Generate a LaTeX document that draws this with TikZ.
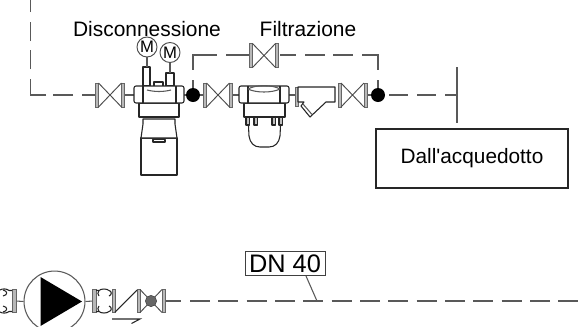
\documentclass[tikz,border=0pt]{standalone}
\usepackage{fontspec}
\setmainfont{Liberation Sans}[Ligatures=TeXOff]
\tikzset{
  pipe/.style={draw=black!65,line width=0.8pt},
  pipedash/.style={draw=black!65,line width=0.8pt,dash pattern=on 15pt off 6.25pt},
  part/.style={draw=black!85,line width=0.8pt,fill=white,line join=round},
  flange/.style={draw=black!60,fill=black!28,line width=0.5pt},
  label/.style={inner sep=0pt,font=\fontsize{15.7pt}{18pt}\selectfont},
  junction/.style={circle,fill=black,inner sep=0pt,minimum size=10.5pt},
  gaugecirc/.style={circle,draw=black!70,line width=0.7pt,fill=white,inner sep=0pt,minimum size=15pt,font=\fontsize{12.5pt}{13pt}\selectfont},
  gatevalve/.pic={
    \draw[flange] (-14.5,-12) rectangle (-11.5,12);
    \draw[flange] (11.5,-12) rectangle (14.5,12);
    \draw[draw=black!70,line width=0.7pt] (-11.5,-12) -- (11.5,12) (-11.5,12) -- (11.5,-12);
  }
}
\begin{document}
\begin{tikzpicture}[x=0.75pt,y=-0.75pt]
\useasboundingbox (0,0) rectangle (586,326);
% labels
\node[label] at (147,29) {Disconnessione};
\node[label] at (308,29) {Filtrazione};
% named points
\node[junction] (j1) at (193,95) {};
\node[junction] (j2) at (378,95) {};
\coordinate (topleft) at (30.5,0);
\coordinate (cornerA) at (30.5,95);
\coordinate (valveL) at (96,95);
\coordinate (cornerB) at (193,55);
\coordinate (cornerC) at (378,55);
\coordinate (bypassL) at (249.5,55);
\coordinate (bypassR) at (279,55);
\coordinate (feedT) at (457,67);
\coordinate (feedB) at (457,123);
\coordinate (feedM) at (457,95);
% long dashed pipes
\draw[pipe,dash pattern=on 10.5pt off 6.75pt on 15pt off 5.25pt on 23.6pt off 7.5pt on 14.25pt off 6.75pt on 14.25pt off 7.5pt on 9pt] (valveL) -- (cornerA) -- (topleft);
\draw[pipe,dash pattern=on 6pt off 7.5pt on 29.25pt off 6.75pt on 17.25pt] (j1.north) -- (cornerB) -- (bypassL);
\draw[pipe,dash pattern=on 6pt off 7.5pt on 23.25pt off 6.75pt on 15pt off 6pt on 15pt off 6.75pt on 12pt] (j2.north) -- (cornerC) -- (bypassR);
\draw[pipe,dash pattern=on 0pt off 3pt on 14.25pt off 6.75pt on 14.25pt off 6.75pt on 9pt] (j2.east) -- (feedM);
\draw[pipe] (feedT) -- (feedB);
% solid pipe stubs
\draw[pipe] (124,95) -- (134,95);
\draw[pipe] (184,95) -- (j1.west);
\draw[pipe] (j1.east) -- (203,95);
\draw[pipe] (233,95) -- (239,95);
\draw[pipe] (289,95) -- (296,95);
\draw[pipe] (368,95) -- (j2.west);
% valves
\pic at (110,95) {gatevalve};
\pic at (218,95) {gatevalve};
\pic at (264,55.5) {gatevalve};
\pic at (352.5,95) {gatevalve};
% disconnector
\draw[part] (143,86) rectangle (150,67);
\draw[part] (166,86) rectangle (174,73);
\draw[part] (154,87) rectangle (163,82);
\node[gaugecirc] (m1) at (147,47) {M};
\node[gaugecirc] (m2) at (170,52.5) {M};
\draw[pipe] (m1) -- (147,67);
\draw[pipe] (m2) -- (170,73);
\draw[part] (141,138) rectangle (177,175);
\draw[part,line width=1.2pt] (141,175) -- (177,175);
\draw[part] (153,139.5) rectangle (165,142);
\draw[part] (143,119) -- (143,124) -- (141,138) -- (177,138) -- (175,124) -- (175,119) -- cycle;
\draw[part] (139,103) rectangle (179,117);
\draw[part,line width=1.1pt] (139,117) -- (179,117);
\draw[part,rounded corners=1.5pt] (134,86) rectangle (184,103);
\draw[part] (143,86) -- (143,103) (176,86) -- (176,103);
\draw[pipe] (147,90) .. controls (155,92) and (163,92) .. (171,90);
% filter
\draw[part] (248,116) -- (249,136) .. controls (250,143) and (254,147) .. (260,147) -- (269,147) .. controls (275,147) and (279,143) .. (280,136) -- (281,116) -- cycle;
\foreach \xa in {246,254,272,279}{\draw[part,fill=black!25] (\xa,116) rectangle ++(3.5,9);}
\draw[part] (244,103) rectangle (285,117);
\draw[part,rounded corners=1.5pt] (239,86) rectangle (289,103);
\draw[part] (248,86) -- (248,103) (280,86) -- (280,103);
\draw[pipe] (248,89) .. controls (256,84.5) and (272,84.5) .. (280,89);
\draw[pipe] (248,89) .. controls (256,93) and (272,93) .. (280,89);
% strainer
\draw[flange] (295,87) rectangle (298,106);
\draw[part] (298,87) -- (335,87) -- (335,102) -- (326,102) -- (310,117) -- (301,106) -- (304,102) -- (298,102) -- cycle;
\draw[pipe] (303,104) -- (312,114.5);
% box
\node[draw=black!85,line width=1.1pt,minimum width=144pt,minimum height=44pt,inner sep=0pt,font=\fontsize{15.6pt}{18pt}\selectfont] (src) at (472,158.5) {Dall'acquedotto};
% lower line
\coordinate (endR) at (578.3,301);
\coordinate (leaderFoot) at (317,301);
\coordinate (lineStart) at (190,301);
\draw[pipe] (165,301) -- (181,301);
\draw[pipedash] (lineStart) -- (endR);
\node[draw=black!75,fill=white,line width=0.7pt,inner sep=0pt,minimum width=60pt,minimum height=18.5pt,font=\fontsize{19pt}{20pt}\selectfont] (dn) at (285,263.5) {DN 40};
\draw[pipe] (306,276) -- (leaderFoot);
% pump
\node[circle,draw=black!65,line width=0.8pt,minimum size=45.7pt,inner sep=0pt] (pump) at (54.5,301.5) {};
\fill (40.5,277) -- (82,301.5) -- (40.5,326) -- cycle;
\draw[pipe] (16,301) -- (pump.west);
\draw[pipe] (pump.east) -- (93,301);
% left fitting
\draw[flange] (12,289.5) rectangle (16,312.5);
\draw[part,fill=none] (12,290.5) -- (9,290.5) .. controls (7,288.5) and (2,288.5) .. (0,290);
\draw[part,fill=none] (12,311.5) -- (9,311.5) .. controls (7,313.5) and (2,313.5) .. (0,312);
\draw[part,fill=none] (3,290) .. controls (8,291) and (8,295) .. (3,296);
\draw[part,fill=none] (3,306) .. controls (8,307) and (8,311) .. (3,312);
% fitting after pump
\draw[flange] (92,289.5) rectangle (96,312.5);
\draw[part,fill=none] (96,290.5) -- (99,290.5) .. controls (101,288.5) and (107,288.5) .. (109,290.5) .. controls (112,291) and (112,295) .. (109,296);
\draw[part,fill=none] (96,311.5) -- (99,311.5) .. controls (101,313.5) and (107,313.5) .. (109,311.5) .. controls (112,311) and (112,307) .. (109,306);
\draw[part,fill=none] (99,290.5) .. controls (97.5,292) and (97.5,295) .. (99,296);
\draw[part,fill=none] (99,311.5) .. controls (97.5,310) and (97.5,307) .. (99,306);
% check valve
\draw[flange] (112,289.5) rectangle (115,312.5);
\draw[flange] (137,289.5) rectangle (140,312.5);
\draw[draw=black!85,line width=0.8pt] (115,312) -- (137,290);
% butterfly valve
\draw[flange] (162,289.5) rectangle (165,312.5);
\draw[draw=black!70,line width=0.7pt] (140,289.5) -- (162,312.5) (140,312.5) -- (162,289.5);
\node[circle,draw=black!75,fill=black!60,minimum size=8.5pt,inner sep=0pt] (bv) at (151,301) {};
% flow arrow
\draw[draw=black!85,line width=0.8pt] (112,319) -- (140,319) -- (131.5,323.5);
\end{tikzpicture}
\end{document}
